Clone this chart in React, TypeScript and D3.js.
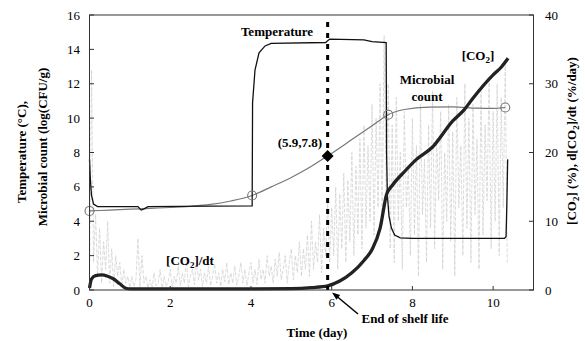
import React from "react";
import * as d3 from "d3";

const xTicks = [0, 2, 4, 6, 8, 10];
const leftTicks = [0, 2, 4, 6, 8, 10, 12, 14, 16];
const rightTicks = [0, 10, 20, 30, 40];

// Temperature (°C) vs day
const temperature: [number, number][] = [
  [0, 7.6], [0.02, 6.5], [0.05, 5.5], [0.1, 5.0], [0.2, 4.85], [0.5, 4.85], [1.2, 4.85],
  [1.28, 4.65], [1.35, 4.72], [1.45, 4.85], [3.0, 4.88], [4.03, 4.9], [4.04, 10.9],
  [4.1, 12.8], [4.2, 13.8], [4.35, 14.2], [4.5, 14.35], [5.85, 14.4], [5.95, 14.6],
  [6.8, 14.55], [7.0, 14.45], [7.35, 14.4], [7.36, 8.0], [7.38, 5.5], [7.42, 4.3],
  [7.48, 3.6], [7.56, 3.2], [7.7, 3.03], [8.0, 3.0], [10.28, 3.0], [10.32, 3.1],
  [10.34, 5.0], [10.36, 7.6],
];

// Microbial count (log CFU/g) vs day
const microbial: [number, number][] = [
  [0, 4.6], [0.5, 4.65], [1, 4.7], [1.5, 4.75], [2, 4.8], [2.5, 4.87], [3, 4.98],
  [3.5, 5.18], [4.03, 5.5], [4.5, 6.0], [5.0, 6.55], [5.5, 7.2], [5.9, 7.8], [6.5, 8.75],
  [7.0, 9.55], [7.4, 10.2], [7.8, 10.5], [8.4, 10.64], [9.0, 10.65], [9.6, 10.58],
  [10.0, 10.57], [10.3, 10.62],
];
const microbialPoints: [number, number][] = [[0, 4.6], [4.03, 5.5], [7.4, 10.2], [10.3, 10.62]];
const shelfLife: [number, number] = [5.9, 7.8];

// [CO2] (%) vs day
const co2: [number, number][] = [
  [0, 0.3], [0.05, 1.6], [0.15, 2.1], [0.3, 2.2], [0.45, 2.0], [0.6, 1.6], [0.75, 0.9],
  [0.9, 0.25], [1.0, 0.15], [2, 0.15], [4, 0.15], [5.0, 0.2], [5.5, 0.35], [5.9, 0.6],
  [6.2, 1.3], [6.5, 2.5], [6.8, 4.3], [7.0, 5.9], [7.2, 9.0], [7.36, 13.9], [7.5, 15.2],
  [7.8, 17.2], [8.1, 19.0], [8.5, 20.8], [9.0, 24.6], [9.28, 26.2], [9.5, 27.9],
  [10.0, 31.3], [10.2, 32.4], [10.37, 33.7],
];

// d[CO2]/dt (%/day), sampled every 0.05 day
const NOISE_STEP = 0.05;
const dco2dt: number[] = [
  0, 32, 4, 11, 2, 9, 1, 7, 3, 10,
  1, 6, 0.5, 5, 2, 4, 0.5, 3, 1, 2,
  0.3, 2, 0.5, 1.5, 7.5, 0.4, 5, 1, 2, 0.3,
  1.5, 0.2, 2.5, 0.6, 1, 3, 0.3, 2, 0.5, 1.2,
  3, 0.4, 2, 1, 3.5, 0.6, 2.5, 1, 4.5, 0.5,
  2, 3, 0.8, 4, 1.5, 3, 0.5, 2.5, 1, 3.5,
  0.6, 2, 3.8, 1, 2.5, 0.5, 3, 1.2, 4, 0.8,
  2.5, 1, 3.5, 0.7, 2, 4, 1, 3, 0.6, 2.5,
  4, 1, 3, 0.8, 4.5, 1.5, 3, 1, 5, 2,
  3.5, 1, 4.5, 2, 5.5, 1.5, 3, 5, 1, 4,
  6, 1.5, 5, 2.5, 7, 2, 6, 3, 8, 2,
  10, 3, 7, 4, 11, 2.5, 9, 5, 13, 4,
  12, 5, 15, 3, 14, 6, 17, 4, 16, 7,
  20, 5, 18, 8, 22, 6, 24, 9, 21, 10,
  27, 8, 25, 12, 30, 10, 37, 14, 30, 6,
  24, 4, 28, 10, 20, 3, 26, 12, 18, 5,
  25, 8, 21, 2, 27, 11, 19, 4, 24, 9,
  29, 6, 22, 13, 26, 3, 20, 10, 27, 7,
  23, 2, 28, 12, 21, 5, 30, 9, 25, 4,
  27, 11, 22, 3, 29, 8, 24, 13, 31, 6,
  26, 10, 30, 5, 28, 12, 33, 4,
];

const W = 585, H = 341;
const x = d3.scaleLinear().domain([0, 11]).range([89.5, 533.5]);
const yL = d3.scaleLinear().domain([0, 16]).range([290, 15]);
const yR = d3.scaleLinear().domain([0, 40]).range([290, 15]);

const FONT = "'Liberation Serif', 'Times New Roman', serif";

export default function App() {
  const lineL = d3.line<[number, number]>().x(d => x(d[0])).y(d => yL(d[1]));
  const lineR = d3.line<[number, number]>().x(d => x(d[0])).y(d => yR(d[1]));
  const microLine = d3.line<[number, number]>().x(d => x(d[0])).y(d => yL(d[1])).curve(d3.curveMonotoneX);
  const co2Line = d3.line<[number, number]>().x(d => x(d[0])).y(d => yR(d[1])).curve(d3.curveMonotoneX);
  const noisePts: [number, number][] = dco2dt.map((v, i) => [i * NOISE_STEP, v]);

  const [sx, sy] = [x(shelfLife[0]), yL(shelfLife[1])];
  const sub = (t: string) => (
    <tspan fontSize={9} dy={3}>{t}</tspan>
  );

  return (
    <svg width={W} height={H} style={{ position: "absolute", left: 0, top: 0, background: "#fff" }} fontFamily={FONT}>
      <rect x={0} y={0} width={W} height={H} fill="#fff" />
      {/* noise */}
      <path d={lineR(noisePts) || ""} fill="none" stroke="#cdcdcd" strokeWidth={0.7} strokeDasharray="4,1.5" />
      {/* microbial */}
      <path d={microLine(microbial) || ""} fill="none" stroke="#777" strokeWidth={1.2} />
      {/* temperature */}
      <path d={lineL(temperature) || ""} fill="none" stroke="#111" strokeWidth={1.3} />
      {/* CO2 */}
      <path d={co2Line(co2) || ""} fill="none" stroke="#222" strokeWidth={3.3} strokeLinejoin="round" />
      {microbialPoints.map((p, i) => (
        <circle key={i} cx={x(p[0])} cy={yL(p[1])} r={4.5} fill="none" stroke="#777" strokeWidth={1.1} />
      ))}
      {/* shelf life dotted line */}
      <line x1={sx} x2={sx} y1={yL(15.6)} y2={yL(0)} stroke="#000" strokeWidth={3} strokeDasharray="5,6" />
      <path d="M0,-6L6,0L0,6L-6,0Z" transform={`translate(${sx},${sy})`} fill="#000" />

      {/* frame */}
      <rect x={89.5} y={15} width={444} height={275} fill="none" stroke="#333" strokeWidth={1} />

      {/* ticks */}
      {leftTicks.map(t => (
        <g key={"l" + t}>
          <line x1={89.5} x2={94} y1={yL(t)} y2={yL(t)} stroke="#333" />
          <text x={80} y={yL(t) + 4.5} textAnchor="end" fontSize={13}>{t}</text>
        </g>
      ))}
      {rightTicks.map(t => (
        <g key={"r" + t}>
          <line x1={529} x2={533.5} y1={yR(t)} y2={yR(t)} stroke="#333" />
          <text x={545} y={yR(t) + 4.5} textAnchor="start" fontSize={13}>{t}</text>
        </g>
      ))}
      {xTicks.map(t => (
        <g key={"x" + t}>
          <line x1={x(t)} x2={x(t)} y1={290} y2={286} stroke="#333" />
          <text x={x(t)} y={306.5} textAnchor="middle" fontSize={13}>{t}</text>
        </g>
      ))}

      {/* axis titles */}
      <text transform="translate(26,152) rotate(-90)" textAnchor="middle" fontSize={13} fontWeight="bold">Temperature (°C),</text>
      <text transform="translate(47,147) rotate(-90)" textAnchor="middle" fontSize={13} fontWeight="bold">Microbial count (log(CFU/g)</text>
      <text transform="translate(576,141) rotate(-90)" textAnchor="middle" fontSize={13} fontWeight="bold">[CO{sub("2")}<tspan dy={-3}>] (%), d[CO</tspan>{sub("2")}<tspan dy={-3}>]/dt (%/day)</tspan></text>
      <text x={317} y={337} textAnchor="middle" fontSize={13} fontWeight="bold">Time (day)</text>

      {/* annotations */}
      <text x={277} y={36} textAnchor="middle" fontSize={13} fontWeight="bold">Temperature</text>
      <text x={300} y={147} textAnchor="middle" fontSize={13} fontWeight="bold">(5.9,7.8)</text>
      <text x={427} y={84} textAnchor="middle" fontSize={13} fontWeight="bold">Microbial</text>
      <text x={427} y={101} textAnchor="middle" fontSize={13} fontWeight="bold">count</text>
      <text x={478} y={60} textAnchor="middle" fontSize={13} fontWeight="bold">[CO{sub("2")}<tspan dy={-3}>]</tspan></text>
      <text x={190} y={265} textAnchor="middle" fontSize={13} fontWeight="bold">[CO{sub("2")}<tspan dy={-3}>]/dt</tspan></text>
      <text x={405} y={323} textAnchor="middle" fontSize={13} fontWeight="bold">End of shelf life</text>
      <line x1={358} y1={314} x2={334} y2={294} stroke="#000" strokeWidth={1.5} />
      <path d="M0,0L8,-3L8,3Z" transform={`translate(332,292.5) rotate(38)`} fill="#000" />
    </svg>
  );
}
